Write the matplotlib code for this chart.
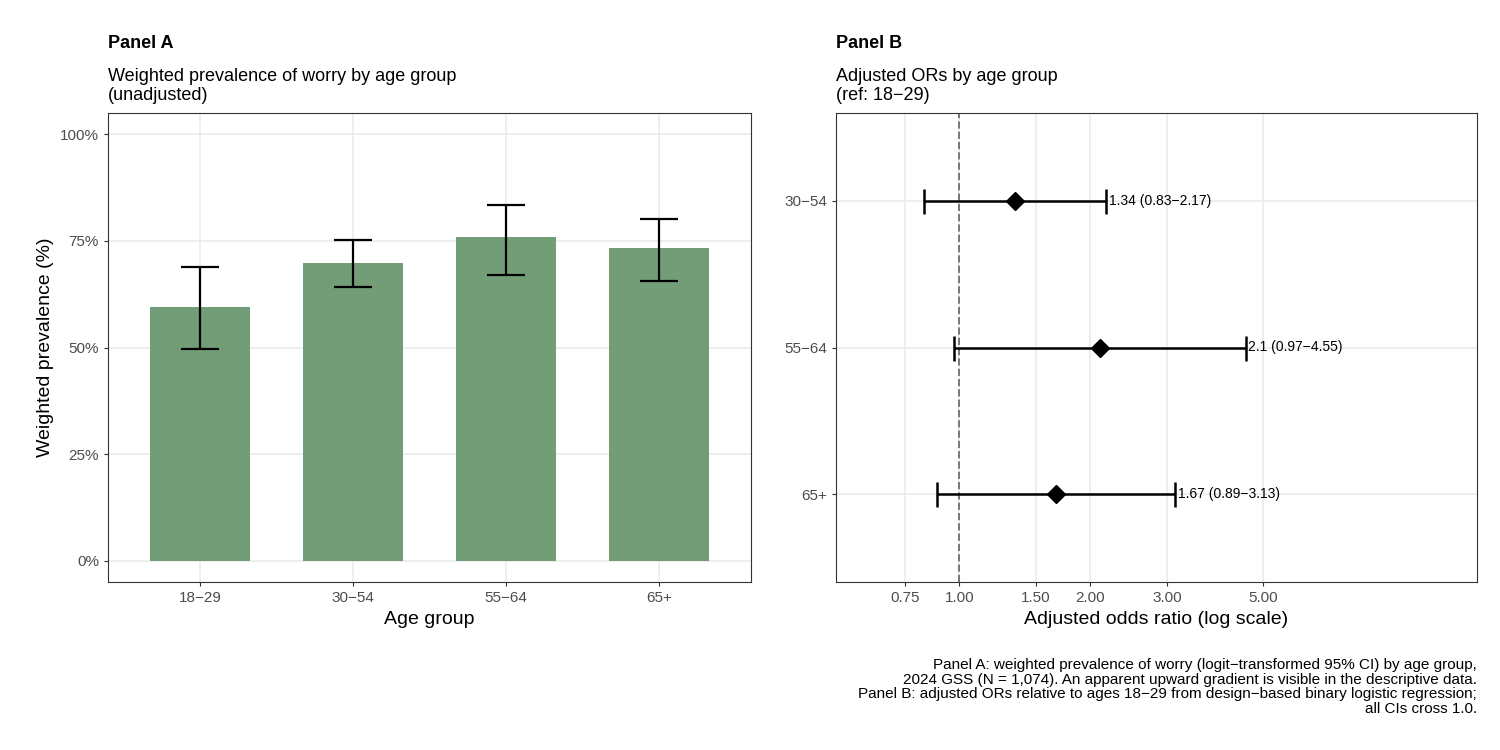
import matplotlib.pyplot as plt
import numpy as np

plt.rcParams['font.family'] = ['Liberation Sans', 'DejaVu Sans']

age_groups = ['18\u221229', '30\u221254', '55\u221264', '65+']
prev = [59.5, 69.8, 75.9, 73.3]
prev_lo = [49.6, 64.2, 67.0, 65.6]
prev_hi = [68.9, 75.2, 83.4, 80.1]

or_groups = ['30\u221254', '55\u221264', '65+']
or_est = [1.34, 2.1, 1.67]
or_lo = [0.83, 0.97, 0.89]
or_hi = [2.17, 4.55, 3.13]

grid_c = '#ebebeb'

fig = plt.figure(figsize=(15, 7.5), dpi=100)
ax1 = fig.add_axes([108/1500, 1-582/750, 643/1500, 469/750])
ax2 = fig.add_axes([836/1500, 1-582/750, 641/1500, 469/750])

for ax in (ax1, ax2):
    ax.set_axisbelow(True)
    for s in ax.spines.values():
        s.set_color('#333333')
        s.set_linewidth(0.8)
    ax.tick_params(colors='#333333', labelsize=11, length=3, labelcolor='#4d4d4d')

# Panel A
x = np.arange(len(age_groups))
ax1.bar(x, prev, width=0.65, color='#6e9a72', alpha=0.97)
yerr = [np.array(prev) - prev_lo, np.array(prev_hi) - prev]
ax1.errorbar(x, prev, yerr=yerr, fmt='none', ecolor='black', elinewidth=1.6,
             capsize=14, capthick=1.6)
ax1.set_xticks(x)
ax1.set_xticklabels(age_groups)
ax1.set_xlim(-0.6, 3.6)
ax1.set_ylim(-5, 105)
ax1.set_yticks([0, 25, 50, 75, 100])
ax1.set_yticklabels(['0%', '25%', '50%', '75%', '100%'])
ax1.grid(True, color=grid_c, linewidth=1.2)
ax1.set_xlabel('Age group', fontsize=14)
ax1.set_ylabel('Weighted prevalence (%)', fontsize=14)
ax1.text(0, 1.13, 'Panel A', transform=ax1.transAxes, fontsize=13, fontweight='bold', va='bottom')
ax1.text(0, 1.02, 'Weighted prevalence of worry by age group\n(unadjusted)',
         transform=ax1.transAxes, fontsize=13, va='bottom', linespacing=1.1)

# Panel B
y = np.arange(1, len(or_groups) + 1)
ax2.set_xscale('log')
ax2.axvline(1.0, color='#777777', linestyle='--', linewidth=1.4)
xerr = [np.array(or_est) - or_lo, np.array(or_hi) - or_est]
ax2.errorbar(or_est, y, xerr=xerr, fmt='D', color='black', markersize=9,
             ecolor='black', elinewidth=1.8, capsize=9, capthick=1.8)
for e, lo, hi, yy in zip(or_est, or_lo, or_hi, y):
    ax2.text(hi * 1.015, yy, f'{e:g} ({lo:.2f}\u2212{hi:.2f})', va='center', fontsize=10)
ax2.set_xlim(0.52, 15.5)
ax2.set_ylim(3.6, 0.4)
ax2.set_yticks(y)
ax2.set_yticklabels(or_groups)
ticks = [0.75, 1.0, 1.5, 2.0, 3.0, 5.0]
ax2.set_xticks(ticks)
ax2.set_xticklabels([f'{t:.2f}' for t in ticks])
ax2.minorticks_off()
ax2.grid(True, color=grid_c, linewidth=1.2)
ax2.set_xlabel('Adjusted odds ratio (log scale)', fontsize=14)
ax2.text(0, 1.13, 'Panel B', transform=ax2.transAxes, fontsize=13, fontweight='bold', va='bottom')
ax2.text(0, 1.02, 'Adjusted ORs by age group\n(ref: 18\u221229)',
         transform=ax2.transAxes, fontsize=13, va='bottom', linespacing=1.1)

caption = ('Panel A: weighted prevalence of worry (logit\u2212transformed 95% CI) by age group,\n'
           '2024 GSS (N = 1,074). An apparent upward gradient is visible in the descriptive data.\n'
           'Panel B: adjusted ORs relative to ages 18\u221229 from design\u2212based binary logistic regression;\n'
           'all CIs cross 1.0.')
fig.text(1477/1500, 1-658/750, caption, ha='right', va='top', fontsize=11, linespacing=1.05)

fig.savefig('out.png', dpi=100, facecolor='white')
